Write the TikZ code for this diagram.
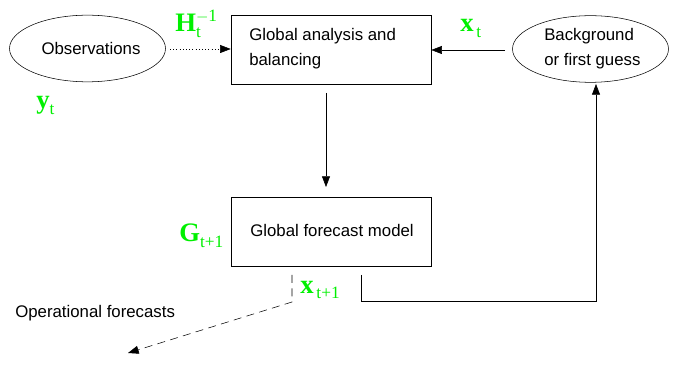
\documentclass[tikz,border=0pt]{standalone}
\usepackage{fontspec}
\setmainfont{Liberation Sans}
\newfontfamily\labelfont{Liberation Serif}
\usetikzlibrary{shapes.geometric,arrows.meta}

\definecolor{labelgreen}{RGB}{0,240,0}
% green symbol with subscript and optional superscript
\newcommand{\greenlab}[3]{{\labelfont\color{labelgreen}\fontsize{20}{20}\selectfont\textbf{#1}%
\makebox[0pt][l]{\raisebox{-0.45ex}{\fontsize{13}{13}\selectfont #2}}%
\raisebox{0.85ex}{\fontsize{13}{13}\selectfont #3}}}

\tikzset{
  box/.style={draw, rectangle, minimum width=150pt, minimum height=51.75pt, inner sep=0pt},
  cloud/.style={draw, ellipse, minimum width=117pt, minimum height=50pt, inner sep=0pt},
  txt/.style={font=\fontsize{12.6}{18.75}\selectfont, inner sep=0pt},
  flow/.style={-{Triangle[length=8pt,width=6pt]}}
}

\begin{document}
\begin{tikzpicture}[x=0.75pt,y=0.75pt,yscale=-1,xscale=1]
\useasboundingbox (0,0) rectangle (678,370);

%Shape: Ellipse [observations]
\node [cloud] (obs) at (87.5,48.5) {};
\node [txt] (obstext) at (91,48) {Observations};
%Shape: Rectangle [analysis]
\node [box] (analysis) at (331,49.5) {};
\node [txt, align=left, anchor=west] (analysistext) at (249,48.5) {Global analysis and\\balancing};
%Shape: Ellipse [background]
\node [cloud] (bg) at (590.5,49) {};
\node [txt, align=left, anchor=west] (bgtext) at (544,48.5) {Background\\or first guess};
%Shape: Rectangle [forecast model]
\node [box] (model) at (331,231.5) {};
\node [txt] (modeltext) at (332,230) {Global forecast model};

% Text Node
\node [txt, anchor=west] (oper) at (15,313) {Operational forecasts};

% Green labels
\node [anchor=base west, inner sep=0pt] (H) at (175,32) {\greenlab{H}{t}{$-$1}};
\node [anchor=base west, inner sep=0pt] (xt) at (460,32) {\greenlab{x}{\,t}{}};
\node [anchor=base west, inner sep=0pt] (yt) at (36,109) {\greenlab{y}{t}{}};
\node [anchor=base west, inner sep=0pt] (G) at (179,242) {\greenlab{G}{t+1}{}};
\node [anchor=base west, inner sep=0pt] (xnext) at (300,293) {\greenlab{x}{\,t+1}{}};

% Corner points
\coordinate (fbtop) at (361,275);
\coordinate (fbcorner) at (596,301);
\coordinate (fbend) at (596,84);
\coordinate (optop) at (292,275);
\coordinate (opcorner) at (292,302);
\coordinate (opend) at (128,353);

%Straight Lines [observations to analysis]
\draw [flow, dotted] (170,49) -- (analysis.west |- 0,49);
%Straight Lines [background to analysis]
\draw [flow] (505,50) -- (analysis.east |- 0,50);
%Straight Lines [analysis to model]
\draw [flow] (326,93) -- (326,187);
%Straight Lines [model to background]
\draw [flow] (fbtop) -- (fbtop |- fbcorner) -- (fbcorner) -- (fbend);
%Straight Lines [operational forecasts]
\draw [flow, dash pattern={on 6pt off 4pt}] (optop) -- (opcorner) -- (opend);

\end{tikzpicture}
\end{document}
